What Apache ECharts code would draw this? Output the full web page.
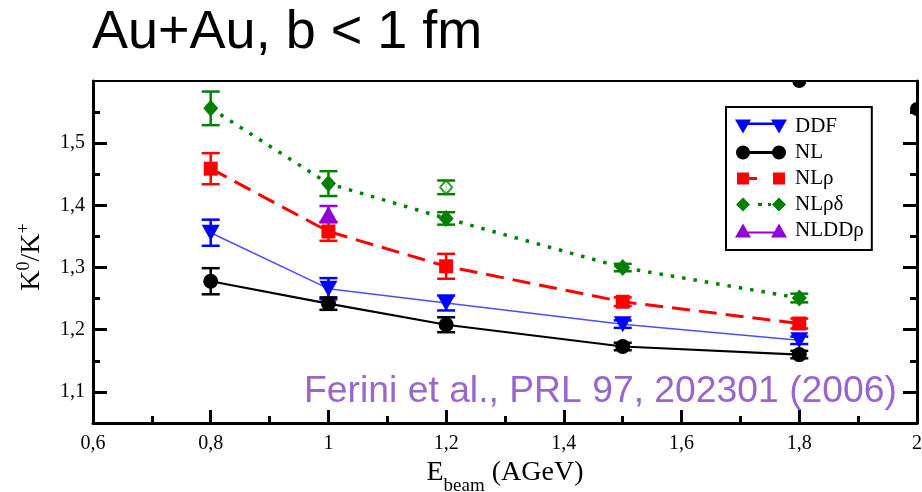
<!DOCTYPE html>
<html><head><meta charset="utf-8">
<script src="https://cdn.jsdelivr.net/npm/echarts@6/dist/echarts.min.js"></script>
<style>html,body{margin:0;padding:0;background:#fff}#c{width:922px;height:492px}</style>
</head><body><div id="c"></div>
<script>
// ---- data ----
const energies = [0.8, 1.0, 1.2, 1.5, 1.8];
const ddf = [1.356, 1.266, 1.243, 1.209, 1.183];
const ddfErr = [0.021, 0.017, 0.012, 0.006, 0.006];
const nl = [1.278, 1.242, 1.208, 1.173, 1.160];
const nlErr = [0.021, 0.010, 0.012, 0.006, 0.006];
const nlRho = [1.459, 1.358, 1.302, 1.245, 1.210];
const nlRhoErr = [0.025, 0.015, 0.020, 0.007, 0.008];
const nlRhoDelta = [1.556, 1.435, 1.379, 1.300, 1.251];
const nlRhoDeltaErr = [0.027, 0.020, 0.010, 0.006, 0.007];
const nlddRhoEnergies = [1.0];
const nlddRho = [1.386];
const nlddRhoErr = [0.013];
const openDiamondEnergies = [1.2];
const openDiamond = [1.429];
const openDiamondErr = [0.011];
const strayEnergies = [1.8, 2.0];
const strayValues = [1.6, 1.555];
const yMajorTicks = [1.1, 1.2, 1.3, 1.4, 1.5];
const yMinorTicks = [1.15, 1.25, 1.35, 1.45, 1.55];
const seriesNames = ['DDF', 'NL', 'NL\u03c1', 'NL\u03c1\u03b4', 'NLDD\u03c1'];
const titleText = 'Au+Au, b < 1 fm';
const citation = 'Ferini et al., PRL 97, 202301 (2006)';

const SERIF = "'Liberation Serif','Times New Roman',serif";
const SANS = "'Liberation Sans',Arial,sans-serif";
const comma = v => String(+v.toFixed(2)).replace('.', ',');

function pairs(xs, ys) { return xs.map((x, i) => [x, ys[i]]); }

function errorSeries(name, xs, ys, errs, color) {
  return {
    type: 'custom', name: name, silent: true, z: 4,
    xAxisIndex: 0, yAxisIndex: 0,
    data: xs.map((x, i) => [x, ys[i], errs[i]]),
    encode: { x: 0, y: 1 },
    renderItem: function (params, api) {
      const x = api.value(0), y = api.value(1), e = api.value(2);
      const t = api.coord([x, y + e]), b = api.coord([x, y - e]);
      const hw = 9;
      const st = { stroke: color, lineWidth: 2.5 };
      return { type: 'group', children: [
        { type: 'line', shape: { x1: t[0], y1: t[1], x2: b[0], y2: b[1] }, style: st },
        { type: 'line', shape: { x1: t[0] - hw, y1: t[1], x2: t[0] + hw, y2: t[1] }, style: st },
        { type: 'line', shape: { x1: b[0] - hw, y1: b[1], x2: b[0] + hw, y2: b[1] }, style: st }
      ]};
    }
  };
}

const corner = 'M0,0 L0.01,0 L0,0.01 Z M52,16 L51.99,16 L52,15.99 Z ';
const icons = [
  'path://' + corner + 'M0,1 L16,1 L8,15 Z M36,1 L52,1 L44,15 Z M8,4 L44,4 L44,6.5 L8,6.5 Z',
  'path://' + corner + 'M1,8 A7,7 0 1,1 15,8 A7,7 0 1,1 1,8 Z M37,8 A7,7 0 1,1 51,8 A7,7 0 1,1 37,8 Z M8,6.5 L44,6.5 L44,9.5 L8,9.5 Z',
  'path://' + corner + 'M2,2 L14,2 L14,14 L2,14 Z M38,2 L50,2 L50,14 L38,14 Z M14,6.5 L22,6.5 L22,9.5 L14,9.5 Z',
  'path://' + corner + 'M1,8 L8,1 L15,8 L8,15 Z M37,8 L44,1 L51,8 L44,15 Z M23,6.5 L27,6.5 L27,9.5 L23,9.5 Z M33,6.5 L36,6.5 L36,9.5 L33,9.5 Z',
  'path://' + corner + 'M0,15 L8,1 L16,15 Z M36,15 L44,1 L52,15 Z M8,9 L44,9 L44,11 L8,11 Z'
];

const chart = echarts.init(document.getElementById('c'), null, { renderer: 'canvas' });
const baseY = { type: 'value', min: 1.05, max: 1.6, splitLine: { show: false } };
const option = {
  animation: false,
  backgroundColor: '#fff',
  title: {
    text: titleText, left: 87, top: 1,
    textStyle: { fontFamily: SANS, fontSize: 54, fontWeight: 'normal', color: '#000' }
  },
  grid: { left: 93, right: 5, top: 81, bottom: 69, containLabel: false, outerBoundsMode: 'none' },
  legend: {
    orient: 'vertical', left: 726, top: 107,
    padding: [9, 8, 9, 9], itemGap: 5, itemWidth: 52, itemHeight: 16,
    backgroundColor: '#fff', borderColor: '#000', borderWidth: 2,
    selectedMode: false,
    textStyle: { fontFamily: SERIF, fontSize: 21, color: '#000', padding: [0, 0, 0, 3] },
    data: seriesNames.map((n, i) => ({ name: n, icon: icons[i] }))
  },
  xAxis: [{
    type: 'value', position: 'bottom', min: 0.6, max: 2.0, interval: 0.2,
    splitLine: { show: false },
    axisLine: { show: true, onZero: false, lineStyle: { color: '#000', width: 3 } },
    axisTick: { show: true, inside: true, length: 13, lineStyle: { color: '#000', width: 3 } },
    minorTick: { show: true, splitNumber: 2, length: 7, lineStyle: { color: '#000', width: 3 } },
    axisLabel: { margin: 11, fontFamily: SERIF, fontSize: 20, color: '#000', formatter: comma },
    name: '{m|E}{sub|beam}{m| (AGeV)}', nameLocation: 'middle', nameGap: 28,
    nameTextStyle: {
      fontFamily: SERIF, fontSize: 28, color: '#000',
      rich: {
        m: { fontFamily: SERIF, fontSize: 28, color: '#000', lineHeight: 30, verticalAlign: 'bottom', padding: [0, 0, 9, 0] },
        sub: { fontFamily: SERIF, fontSize: 19, color: '#000', lineHeight: 20, verticalAlign: 'bottom' }
      }
    }
  }, {
    type: 'value', position: 'top', min: 0.6, max: 2.0, interval: 0.2,
    splitLine: { show: false },
    axisLine: { show: true, onZero: false, lineStyle: { color: '#000', width: 2 } },
    axisTick: { show: false }, axisLabel: { show: false }
  }],
  yAxis: [
    Object.assign({}, baseY, {
      position: 'left',
      axisLine: { show: true, onZero: false, lineStyle: { color: '#000', width: 3 } },
      axisTick: { show: true, inside: true, length: 14, customValues: yMajorTicks, lineStyle: { color: '#000', width: 3 } },
      axisLabel: { margin: 8, fontFamily: SERIF, fontSize: 20, color: '#000', customValues: yMajorTicks, formatter: comma },
      name: 'K{sup|0}/K{sup|+}', nameLocation: 'middle', nameGap: 44,
      nameTextStyle: {
        fontFamily: SERIF, fontSize: 28, color: '#000', lineHeight: 34, verticalAlign: 'bottom',
        padding: [0, 10, 0, 0],
        rich: { sup: { fontFamily: SERIF, fontSize: 18, color: '#000', lineHeight: 34, verticalAlign: 'top', padding: [0, 0, 12, 0] } }
      }
    }),
    Object.assign({}, baseY, {
      position: 'left',
      axisLine: { show: false },
      axisTick: { show: true, inside: true, length: 7, customValues: yMinorTicks, lineStyle: { color: '#000', width: 3 } },
      axisLabel: { show: false }
    }),
    Object.assign({}, baseY, {
      position: 'right',
      axisLine: { show: true, onZero: false, lineStyle: { color: '#000', width: 3 } },
      axisTick: { show: true, inside: true, length: 14, customValues: yMajorTicks, lineStyle: { color: '#000', width: 3 } },
      axisLabel: { show: false }
    }),
    Object.assign({}, baseY, {
      position: 'right',
      axisLine: { show: false },
      axisTick: { show: true, inside: true, length: 7, customValues: yMinorTicks, lineStyle: { color: '#000', width: 3 } },
      axisLabel: { show: false }
    })
  ],
  graphic: [{
    type: 'text', right: 25, top: 373, z: 10,
    style: { text: citation, fontFamily: SANS, fontSize: 37.3, fill: '#9966cc' }
  }],
  series: [
    { name: seriesNames[0], type: 'line', data: pairs(energies, ddf), z: 5,
      symbol: 'triangle', symbolRotate: 180, symbolSize: [18, 16],
      itemStyle: { color: '#0000ff' }, lineStyle: { color: '#4d4dff', width: 1.5 } },
    { name: seriesNames[1], type: 'line', data: pairs(energies, nl), z: 5,
      symbol: 'circle', symbolSize: 15,
      itemStyle: { color: '#000' }, lineStyle: { color: '#000', width: 2.2 } },
    { name: seriesNames[2], type: 'line', data: pairs(energies, nlRho), z: 5,
      symbol: 'rect', symbolSize: 14,
      itemStyle: { color: '#ff0000' }, lineStyle: { color: '#ff0000', width: 3, type: [18, 9] } },
    { name: seriesNames[3], type: 'line', data: pairs(energies, nlRhoDelta), z: 5,
      symbol: 'diamond', symbolSize: [15, 17],
      itemStyle: { color: '#008000' }, lineStyle: { color: '#008000', width: 3.5, type: [3.5, 8] } },
    { name: seriesNames[4], type: 'line', data: pairs(nlddRhoEnergies, nlddRho), z: 6,
      symbol: 'triangle', symbolSize: [18, 16],
      itemStyle: { color: '#9000d8' }, lineStyle: { color: '#9000d8', width: 2 } },
    { name: 'NL\u03c1\u03b4 (open)', type: 'scatter', data: pairs(openDiamondEnergies, openDiamond), z: 5,
      symbol: 'emptyDiamond', symbolSize: [12, 14],
      itemStyle: { color: '#008000', borderColor: '#008000', borderWidth: 2 } },
    errorSeries('DDF err', energies, ddf, ddfErr, '#0000ff'),
    errorSeries('NL err', energies, nl, nlErr, '#000'),
    errorSeries('NLrho err', energies, nlRho, nlRhoErr, '#ff0000'),
    errorSeries('NLrhodelta err', energies, nlRhoDelta, nlRhoDeltaErr, '#008000'),
    errorSeries('NLDDrho err', nlddRhoEnergies, nlddRho, nlddRhoErr, '#9000d8'),
    errorSeries('open err', openDiamondEnergies, openDiamond, openDiamondErr, '#008000'),
    { name: 'stray', type: 'custom', silent: true, z: 3,
      data: pairs(strayEnergies, strayValues), encode: { x: 0, y: 1 },
      renderItem: function (params, api) {
        const p = api.coord([api.value(0), api.value(1)]);
        const cs = params.coordSys;
        return { type: 'circle', shape: { cx: p[0], cy: p[1], r: 7 }, style: { fill: '#000' },
          clipPath: { type: 'rect', shape: { x: cs.x, y: cs.y, width: cs.width, height: cs.height } } };
      } }
  ]
};
chart.setOption(option);
</script></body></html>
